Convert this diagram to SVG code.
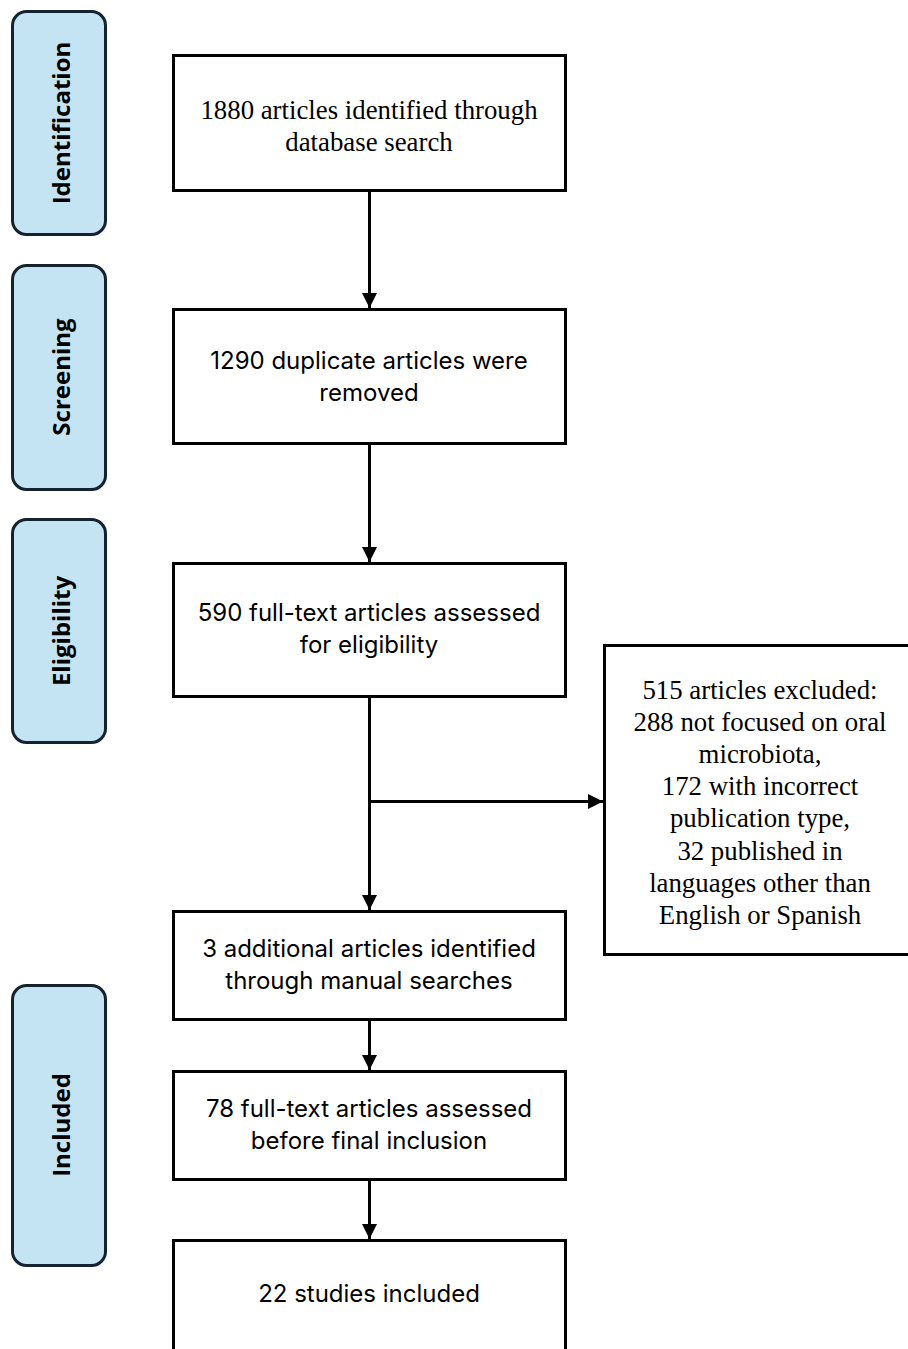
<svg xmlns="http://www.w3.org/2000/svg" width="908" height="1349" viewBox="0 0 908 1349">
<defs>
<marker id="ah" viewBox="0 0 10 10" refX="10" refY="5" markerWidth="5" markerHeight="5" markerUnits="strokeWidth" orient="auto">
<path d="M0,0 L10,5 L0,10 z" fill="#000"/>
</marker>
<style>
.phase{fill:#C4E4F4;stroke:#14232F;stroke-width:3}
.phase-t{font-family:"Open Sans","Liberation Sans",sans-serif;font-weight:bold;font-size:24px;fill:#000;text-anchor:middle;dominant-baseline:central}
.box{fill:#fff;stroke:#000;stroke-width:3}
.serif{font-family:"Liberation Serif",serif;font-size:26.8px;fill:#000;text-anchor:middle}
.sans{font-family:"Inter","Liberation Sans",sans-serif;font-size:24px;fill:#000;text-anchor:middle}
.con{stroke:#000;stroke-width:3;fill:none;marker-end:url(#ah)}
</style>
</defs>
<rect width="908" height="1349" fill="#fff"/>

<g id="phase-identification">
<rect class="phase" x="12.5" y="11.5" width="93" height="223" rx="14"/>
<text class="phase-t" transform="translate(60,123) rotate(-90)">Identification</text>
</g>
<g id="phase-screening">
<rect class="phase" x="12.5" y="265.5" width="93" height="224" rx="14"/>
<text class="phase-t" transform="translate(60,377) rotate(-90)">Screening</text>
</g>
<g id="phase-eligibility">
<rect class="phase" x="12.5" y="519.5" width="93" height="223" rx="14"/>
<text class="phase-t" transform="translate(60,631) rotate(-90)">Eligibility</text>
</g>
<g id="phase-included">
<rect class="phase" x="12.5" y="985.5" width="93" height="280" rx="14"/>
<text class="phase-t" transform="translate(60,1125) rotate(-90)">Included</text>
</g>

<g id="n1">
<rect class="box" x="173.5" y="55.5" width="392" height="135"/>
<text class="serif" x="369" y="119">1880 articles identified through</text>
<text class="serif" x="369" y="151">database search</text>
</g>
<g id="n2">
<rect class="box" x="173.5" y="309.5" width="392" height="134"/>
<text class="sans" x="369" y="369">1290 duplicate articles were</text>
<text class="sans" x="369" y="401">removed</text>
</g>
<g id="n3">
<rect class="box" x="173.5" y="563.5" width="392" height="133"/>
<text class="sans" x="369" y="621">590 full-text articles assessed</text>
<text class="sans" x="369" y="653">for eligibility</text>
</g>
<g id="n4">
<rect class="box" x="604.5" y="645.5" width="310" height="309"/>
<text class="serif" x="760" y="699">515 articles excluded:</text>
<text class="serif" x="760" y="731">288 not focused on oral</text>
<text class="serif" x="760" y="763">microbiota,</text>
<text class="serif" x="760" y="795">172 with incorrect</text>
<text class="serif" x="760" y="827">publication type,</text>
<text class="serif" x="760" y="860">32 published in</text>
<text class="serif" x="760" y="892">languages other than</text>
<text class="serif" x="760" y="924">English or Spanish</text>
</g>
<g id="n5">
<rect class="box" x="173.5" y="911.5" width="392" height="108"/>
<text class="sans" x="369" y="957">3 additional articles identified</text>
<text class="sans" x="369" y="989">through manual searches</text>
</g>
<g id="n6">
<rect class="box" x="173.5" y="1071.5" width="392" height="108"/>
<text class="sans" x="369" y="1117">78 full-text articles assessed</text>
<text class="sans" x="369" y="1149">before final inclusion</text>
</g>
<g id="n7">
<rect class="box" x="173.5" y="1240.5" width="392" height="120"/>
<text class="sans" x="369" y="1302">22 studies included</text>
</g>

<g id="connectors">
<line class="con" x1="369.5" y1="191" x2="369.5" y2="308"/>
<line class="con" x1="369.5" y1="445" x2="369.5" y2="562"/>
<line class="con" x1="369.5" y1="698" x2="369.5" y2="910"/>
<line class="con" x1="369.5" y1="801.5" x2="603" y2="801.5"/>
<line class="con" x1="369.5" y1="1021" x2="369.5" y2="1070"/>
<line class="con" x1="369.5" y1="1181" x2="369.5" y2="1239"/>
</g>
</svg>
